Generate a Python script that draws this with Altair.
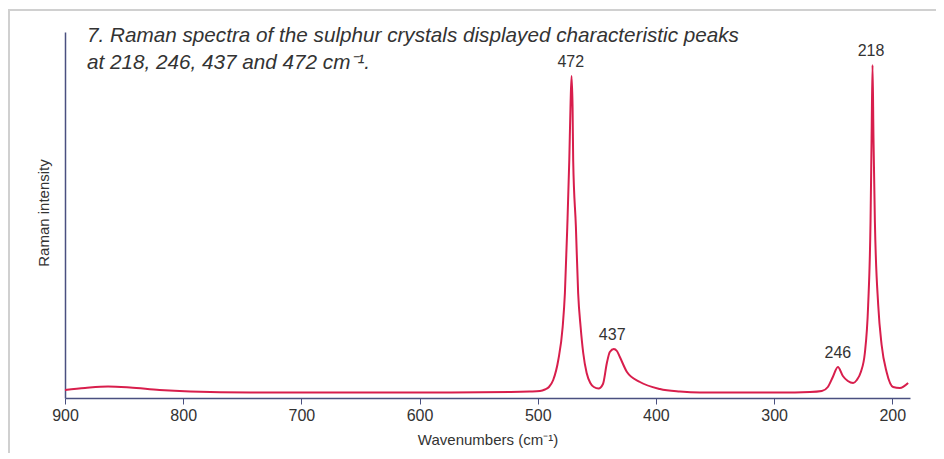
import altair as alt
import pandas as pd

# Spectrum points (wavenumber cm-1, intensity a.u.)
wavenumber = [900, 883, 863.6, 845, 820, 794, 743, 659, 574, 523, 507,
              498.1, 493.9, 490.5, 486.9, 482.6, 478.9, 477.0, 475.0, 473.3, 472.3, 471.4,
              470.5, 470.0, 467.7, 465.8, 463.7, 461.5, 458.6, 455.5, 452.5, 448.5,
              444.8, 441.5, 439, 435.6, 433, 430.5, 424.5, 413.5, 396.6,
              379.7, 362.8, 295, 269.7, 259.6, 254.5, 250.3, 246, 241.8, 237.6, 233.1,
              230, 226.6, 223.2, 220.4, 218.4, 217.5, 216.7,
              215.9, 214.7, 211.9, 209.0, 204.8, 199.3, 193.6, 186.6]
intensity = [8, 10, 11.5, 10.5, 8, 6.5, 5.5, 5.5, 5.5, 6, 6.5,
             7, 8.5, 11, 18, 38, 71, 105, 171, 238, 290, 322,
             290, 238, 171, 105, 71, 45, 25, 15, 11, 9.5,
             14, 35, 46, 49, 47, 41, 26, 16, 9,
             6.5, 5.5, 5.5, 6, 7, 11, 21, 31, 22, 17, 15,
             18, 26, 45, 93, 176, 260, 333,
             260, 176, 93, 53, 26, 11, 10, 15]

peak_pos = [472, 437, 246, 218]
peak_int = [322, 49, 31, 333]
peak_lab = ["472", "437", "246", "218"]

x_ticks = [900, 800, 700, 600, 500, 400, 300, 200]

title_lines = ["7. Raman spectra of the sulphur crystals displayed characteristic peaks",
               "at 218, 246, 437 and 472 cm\u207b\u00b9."]

spec = pd.DataFrame({"w": wavenumber, "i": intensity})
peaks = pd.DataFrame({"w": peak_pos, "i": peak_int, "t": peak_lab})

AXIS = "#4a5080"
RED = "#d81e4c"
FONT = "Liberation Sans"

xscale = alt.Scale(domain=[900, 185], nice=False, zero=False)
yscale = alt.Scale(domain=[0, 366], nice=False, zero=True)

line = alt.Chart(spec).mark_line(color=RED, strokeWidth=2, interpolate="monotone").encode(
    x=alt.X("w:Q", scale=xscale,
            axis=alt.Axis(values=x_ticks, title="Wavenumbers (cm\u207b\u00b9)", grid=False,
                          domainColor=AXIS, domainWidth=1.5, tickColor=AXIS, tickSize=6,
                          labelFlush=False, labelOverlap=False,
                          labelFont=FONT, labelFontSize=16, labelColor="#333333", labelPadding=3,
                          titleFont=FONT, titleFontSize=15, titleFontWeight="normal",
                          titleColor="#333333", titlePadding=9)),
    y=alt.Y("i:Q", scale=yscale,
            axis=alt.Axis(labels=False, ticks=False, grid=False, title=None,
                          domainColor=AXIS, domainWidth=1.5)),
)

labels = alt.Chart(peaks).mark_text(font=FONT, fontSize=16, color="#333333", dy=-14,
                                     baseline="middle").encode(
    x=alt.X("w:Q", scale=xscale), y=alt.Y("i:Q", scale=yscale), text="t:N")

ylab = alt.Chart(pd.DataFrame({"t": ["Raman intensity"]})).mark_text(
    font=FONT, fontSize=15, color="#333333", angle=270, baseline="middle", align="center").encode(
    x=alt.value(-21), y=alt.value(181), text="t:N")

title_df = pd.DataFrame({"t": title_lines, "yy": [4, 31]})
title = alt.Chart(title_df).mark_text(
    font=FONT, fontSize=20.7, fontStyle="italic", color="#333333", align="left",
    baseline="middle").encode(x=alt.value(22), y=alt.Y("yy:Q", scale=None), text="t:N")

border_top = alt.Chart(pd.DataFrame({"a": [0]})).mark_rule(color="#d0d0d0", strokeWidth=2).encode(
    x=alt.value(-57), x2=alt.value(871), y=alt.value(-22))
border_left = alt.Chart(pd.DataFrame({"a": [0]})).mark_rule(color="#d0d0d0", strokeWidth=2).encode(
    x=alt.value(-56), y=alt.value(-22), y2=alt.value(421))

chart = alt.layer(border_top, border_left, line, labels, ylab, title).properties(
    width=845, height=366,
    autosize=alt.AutoSizeParams(type="none"),
    padding={"left": 57, "top": 24, "right": 26, "bottom": 55},
).configure_view(stroke=None)

chart.save("out.html", embed_options={"renderer": "svg", "actions": False})
